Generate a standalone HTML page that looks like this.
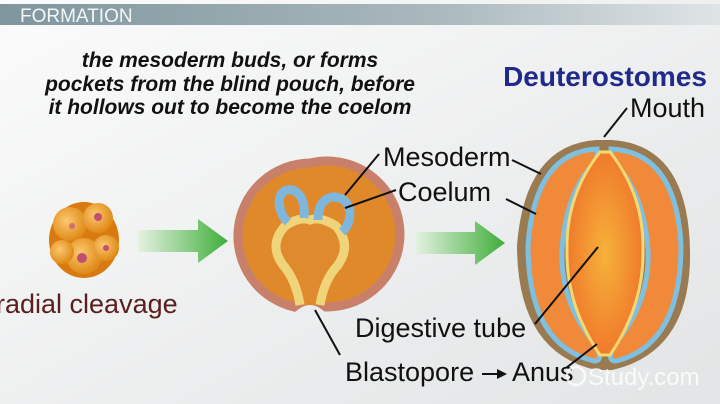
<!DOCTYPE html>
<html><head><meta charset="utf-8"><style>
html,body{margin:0;padding:0;width:720px;height:404px;overflow:hidden;background:#f1f2f2}
</style></head><body>
<svg width="720" height="404" viewBox="0 0 720 404" xmlns="http://www.w3.org/2000/svg" font-family="Liberation Sans, sans-serif">
<defs>
<linearGradient id="bg" x1="0" y1="0" x2="1" y2="1"><stop offset="0" stop-color="#fbfbfb"/><stop offset="1" stop-color="#e2e4e5"/></linearGradient>
<linearGradient id="hdr" x1="0" y1="0" x2="1" y2="0"><stop offset="0" stop-color="#7f969e"/><stop offset="0.6" stop-color="#a9b8bd"/><stop offset="1" stop-color="#dfe4e6"/></linearGradient>
<linearGradient id="arr" x1="0" y1="0" x2="1" y2="0"><stop offset="0" stop-color="#e6f2e2"/><stop offset="1" stop-color="#3fae3a"/></linearGradient>
<radialGradient id="inner" cx="0.5" cy="0.5" r="0.5"><stop offset="0" stop-color="#f6b23a"/><stop offset="1" stop-color="#f07a2c"/></radialGradient>
<radialGradient id="cell" cx="0.4" cy="0.4" r="0.6"><stop offset="0" stop-color="#fbc870"/><stop offset="1" stop-color="#e08a18"/></radialGradient>
</defs>
<rect width="720" height="404" fill="url(#bg)"/>
<rect x="0" y="4" width="720" height="21" fill="url(#hdr)"/>
<text x="20" y="22" font-size="19" fill="#f4f6f6">FORMATION</text>
<g font-style="italic" font-weight="bold" font-size="21" fill="#111" text-anchor="middle">
<text x="230" y="67">the mesoderm buds, or forms</text>
<text x="230" y="91">pockets from the blind pouch, before</text>
<text x="230" y="114">it hollows out to become the coelom</text>
</g>
<text x="605" y="86" font-size="28" font-weight="bold" fill="#1f2a8a" text-anchor="middle">Deuterostomes</text>
<g font-size="27" fill="#111">
<text x="630" y="117">Mouth</text>
<text x="383" y="166">Mesoderm</text>
<text x="398" y="201">Coelum</text>
<text x="355" y="337">Digestive tube</text>
<text x="345" y="381">Blastopore</text>
<text x="512" y="381">Anus</text>
</g>
<text x="-4" y="313" font-size="27" fill="#5a1e1e">radial cleavage</text>
<!-- cleavage embryo -->
<g>
<ellipse cx="84" cy="240" rx="35" ry="38" fill="#d87a10"/>
<circle cx="70" cy="224" r="17" fill="url(#cell)"/><circle cx="98" cy="218" r="15" fill="url(#cell)"/>
<circle cx="84" cy="256" r="18" fill="url(#cell)"/><circle cx="106" cy="248" r="13" fill="url(#cell)"/>
<circle cx="62" cy="252" r="12" fill="url(#cell)"/>
<circle cx="82" cy="258" r="5" fill="#c05070"/><circle cx="98" cy="217" r="4" fill="#c05070"/><circle cx="106" cy="248" r="3" fill="#c05070"/><circle cx="72" cy="226" r="3" fill="#d07070"/>
</g>
<!-- arrows -->
<path d="M138 230 H198 V219 L228 241 L198 263 V252 H138Z" fill="url(#arr)"/>
<path d="M415 232 H475 V221 L505 243 L475 265 V254 H415Z" fill="url(#arr)"/>
<!-- middle embryo -->
<path d="M310 163 A73 73 0 1 1 326 307 Q310 294 294 307 A73 73 0 0 1 310 163Z" fill="#e0892a" stroke="#c8806a" stroke-width="9"/>
<path d="M300 305 Q296 280 283 265 Q268 245 285 226 Q300 216 310 220 Q320 216 336 226 Q352 245 338 265 Q324 280 320 305" fill="#e08a30" stroke="#efd47a" stroke-width="9"/>
<path d="M304 218 Q306 196 293 190 Q280 188 279 202 Q280 215 288 222" fill="none" stroke="#7fb6dc" stroke-width="9"/>
<path d="M318 220 Q318 200 332 197 Q347 196 350 212 Q350 225 342 232" fill="none" stroke="#7fb6dc" stroke-width="9"/>
<!-- right embryo -->
<path d="M596 140 Q525 145 517 245 Q517 352 596 370 L612 370 Q692 352 690 250 Q688 145 612 140Z" fill="#9a7a50"/>
<path d="M597 149 Q535 152 528 245 Q528 345 594 361 Q606 361 592 340 Q560 300 562 250 Q566 190 597 160Z" fill="#f08a3a" stroke="#7fbfe0" stroke-width="5"/>
<path d="M611 149 Q676 152 681 245 Q681 345 616 361 Q604 361 618 340 Q650 300 648 250 Q644 190 611 160Z" fill="#f08a3a" stroke="#7fbfe0" stroke-width="5"/>
<path d="M600 152 Q566 195 567 250 Q566 305 600 355 L610 355 Q644 305 643 250 Q644 195 610 152Z" fill="url(#inner)" stroke="#f5d870" stroke-width="3"/>
<!-- leader lines -->
<g stroke="#111" stroke-width="2" fill="none">
<path d="M627 108 L604 137"/>
<path d="M512 160 L541 174"/>
<path d="M506 199 L536 214"/>
<path d="M379 154 L345 195"/>
<path d="M396 190 L345 208"/>
<path d="M535 324 L598 247"/>
<path d="M315 310 L340 355"/>
<path d="M566 368 L597 344"/>
<path d="M482 374 L498 374"/>
</g>
<path d="M497 369 L507 374 L497 379Z" fill="#111"/>
<circle cx="576" cy="376" r="9" fill="none" stroke="#fff" stroke-width="2.5" opacity="0.8"/>
<text x="588" y="385" font-size="24" fill="#fff" opacity="0.8">Study.com</text>
</svg>
</body></html>
